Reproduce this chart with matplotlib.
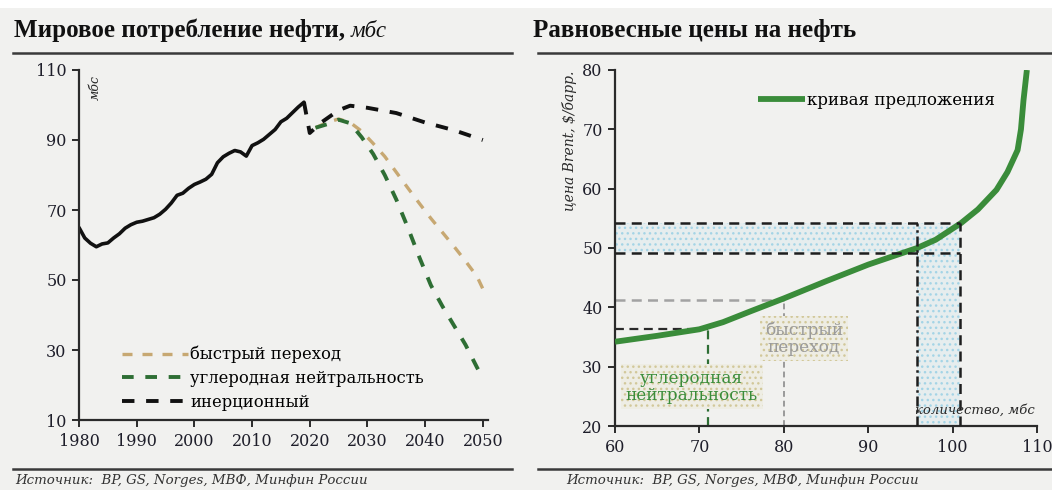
import matplotlib
matplotlib.use("Agg")
import matplotlib.pyplot as plt
from matplotlib.patches import Rectangle

# ---- left panel: world oil consumption, mb/d ----
hist_years = list(range(1980, 2020))
hist_cons = [65.0, 62.0, 60.5, 59.5, 60.3, 60.6, 62.0, 63.2, 64.8, 65.8,
             66.5, 66.8, 67.3, 67.8, 68.8, 70.2, 72.0, 74.2, 74.8, 76.2,
             77.3, 78.0, 78.8, 80.2, 83.5, 85.2, 86.2, 87.0, 86.6, 85.4,
             88.4, 89.2, 90.2, 91.6, 93.0, 95.2, 96.2, 97.8, 99.4, 100.8]

inert_years = [2019, 2020, 2022, 2025, 2027, 2030, 2035, 2040, 2045, 2050]
inert_cons = [100.8, 92.0, 95.0, 98.5, 99.8, 99.2, 97.7, 95.0, 92.8, 90.0]

scen_years = [2021, 2023, 2025, 2027, 2029, 2031, 2033, 2035, 2037, 2039,
              2041, 2043, 2045, 2047, 2049, 2050]
fast_cons = [93.5, 95.0, 96.0, 95.0, 92.5, 89.0, 85.3, 80.8, 76.3, 71.9,
             67.6, 63.6, 59.6, 55.4, 51.0, 47.5]
neutral_cons = [93.5, 94.5, 95.8, 94.8, 90.8, 86.0, 80.0, 73.0, 65.0, 56.5,
                48.5, 42.5, 37.0, 31.5, 25.0, 22.0]

left_xticks = [1980, 1990, 2000, 2010, 2020, 2030, 2040, 2050]
left_yticks = [10, 30, 50, 70, 90, 110]

# ---- right panel: equilibrium oil prices ----
supply_q = [60, 65, 70, 72.8, 76, 80, 85, 90, 95.8, 98, 101, 103, 105.2,
            106.5, 107.7, 108.1, 108.4, 108.8]
supply_p = [34.2, 35.2, 36.3, 37.5, 39.3, 41.5, 44.4, 47.2, 50.0, 51.4,
            54.2, 56.5, 59.8, 62.8, 66.5, 70.0, 74.9, 80.0]

neutral_q, neutral_p = 71.0, 36.4
fast_q, fast_p = 80.0, 41.2
band_q = [95.8, 100.9]
band_p = [49.1, 54.2]

right_xticks = [60, 70, 80, 90, 100, 110]
right_yticks = [20, 30, 40, 50, 60, 70, 80]

SERIF = "DejaVu Serif"
TITLE_FONT = "Liberation Serif"
BG = "#f1f1ef"
INK = "#2a2a2a"
GREEN = "#3a8c3a"
DKGREEN = "#2e6e34"
TAN = "#c7a872"
SOURCE = "Источник:  BP, GS, Norges, МВФ, Минфин России"

fig = plt.figure(figsize=(10.52, 4.9), dpi=100, facecolor=BG)
fig.patches.append(Rectangle((0, 1 - 8 / 490), 1, 8 / 490, transform=fig.transFigure,
                             facecolor="white", edgecolor="none", zorder=0))


def style_axes(ax):
    ax.set_facecolor(BG)
    for s in ("top", "right"):
        ax.spines[s].set_visible(False)
    for s in ("left", "bottom"):
        ax.spines[s].set_color(INK)
        ax.spines[s].set_linewidth(1.6)
    ax.tick_params(direction="out", length=5, width=1.4, color=INK,
                   labelsize=11.5, labelcolor="#1e1e2a", pad=4)
    for lab in ax.get_xticklabels() + ax.get_yticklabels():
        lab.set_family(SERIF)


def frame_lines(x0, x1):
    for y in (1 - 53 / 490, 1 - 469 / 490):
        fig.add_artist(plt.Line2D([x0, x1], [y, y], transform=fig.transFigure,
                                  color="#3a3a3a", lw=1.8))


def title_with_unit(x, bold, unit=None):
    y = 1 - 37 / 490
    t = fig.text(x, y, bold, family=TITLE_FONT, weight="bold", fontsize=18,
                 va="baseline", ha="left", color="#111")
    if unit:
        fig.canvas.draw()
        bb = t.get_window_extent(fig.canvas.get_renderer())
        fig.text(bb.x1 / fig.bbox.width + 0.005, y, unit, family=TITLE_FONT,
                 style="italic", fontsize=16.5, va="baseline", ha="left",
                 color="#111")


# ================= left chart =================
axl = fig.add_axes([79 / 1052, 70 / 490, 409 / 1052, 350 / 490])
axl.plot(hist_years, hist_cons, color="#111", lw=2.6, solid_capstyle="round")
axl.plot(scen_years, fast_cons, color=TAN, lw=2.4, dashes=(3, 3),
         label="быстрый переход")
axl.plot(scen_years, neutral_cons, color=DKGREEN, lw=2.8, dashes=(3, 3),
         label="углеродная нейтральность")
axl.plot(inert_years, inert_cons, color="#111", lw=2.8, dashes=(3.2, 3),
         label="инерционный")
axl.set_xlim(1980, 2050.9)
axl.set_ylim(10, 110)
axl.set_xticks(left_xticks)
axl.set_yticks(left_yticks)
style_axes(axl)
axl.text(0.04, 0.95, "мбс", transform=axl.transAxes, rotation=90, ha="center",
         va="center", family=SERIF, style="italic", fontsize=9, color=INK)
axl.legend(loc="lower left", bbox_to_anchor=(0.07, -0.015), frameon=False,
           handlelength=4.0, handletextpad=0.15, labelspacing=0.4,
           prop={"family": SERIF, "size": 11.8})

frame_lines(13 / 1052, 512 / 1052)
title_with_unit(14 / 1052, "Мировое потребление нефти,", "мбс")
fig.text(15 / 1052, 1 - 480 / 490, SOURCE, family=SERIF, style="italic",
         fontsize=9.6, va="center", color="#333")

# ================= right chart =================
axr = fig.add_axes([615 / 1052, 64 / 490, 422 / 1052, 356 / 490])
axr.set_xlim(60, 110)
axr.set_ylim(20, 80)

# shaded equilibrium bands
axr.fill_between([60, band_q[1]], band_p[0], band_p[1], facecolor="#e6edee",
                 edgecolor="#a4d4e6", hatch="...", lw=0, zorder=1)
axr.fill_between(band_q, 20, band_p[0], facecolor="#e6edee",
                 edgecolor="#a4d4e6", hatch="...", lw=0, zorder=1)

axr.plot(supply_q, supply_p, color=GREEN, lw=4.2, zorder=3,
         solid_capstyle="butt", label="кривая предложения")

dash_kw = dict(lw=1.8, dashes=(4, 2.5), zorder=4)
for p in band_p:
    axr.plot([60, band_q[1]], [p, p], color="#1e1e1e", **dash_kw)
axr.plot([band_q[0]] * 2, [20, band_p[1]], color="#1e1e1e", lw=1.8,
         dashes=(4, 1.5, 1, 1.5), zorder=4)
axr.plot([band_q[1]] * 2, [20, band_p[1]], color="#1e1e1e", **dash_kw)

axr.plot([60, fast_q], [fast_p, fast_p], color="#a2a2a2", lw=1.8,
         dashes=(4, 2.5), zorder=2)
axr.plot([fast_q, fast_q], [20, fast_p], color="#9a9a9a", lw=1.4,
         dashes=(3, 2), zorder=2)
axr.plot([60, neutral_q], [neutral_p, neutral_p], color="#2a2a2a", lw=1.6,
         dashes=(4, 2.5), zorder=2)
axr.plot([neutral_q, neutral_q], [20, neutral_p], color=DKGREEN, lw=1.6,
         dashes=(4, 2.5), zorder=2)

box = dict(boxstyle="square,pad=0.3", facecolor="#eeede4", edgecolor="#d2c89a",
           hatch="...", lw=0)
axr.text(69.1, 26.6, "углеродная\nнейтральность", ha="center", va="center",
         family=SERIF, fontsize=12.2, color=GREEN, linespacing=1.05, bbox=box,
         zorder=5)
axr.text(82.4, 34.7, "быстрый\nпереход", ha="center", va="center",
         family=SERIF, fontsize=12.2, color="#9a9a9a", linespacing=1.05,
         bbox=box, zorder=5)
axr.text(95.6, 22.6, "количество, мбс", ha="left", va="center", family=SERIF,
         style="italic", fontsize=9.5, color=INK, zorder=6)
axr.text(-0.107, 0.80, "цена Brent, $/барр.", transform=axr.transAxes,
         rotation=90, ha="center", va="center", family=SERIF, style="italic",
         fontsize=10, color=INK)

axr.set_xticks(right_xticks)
axr.set_yticks(right_yticks)
style_axes(axr)
axr.legend(loc="upper right", bbox_to_anchor=(0.935, 0.98), frameon=False,
           handlelength=2.8, handletextpad=0.1,
           prop={"family": SERIF, "size": 12})

frame_lines(538 / 1052, 1.0)
title_with_unit(533 / 1052, "Равновесные цены на нефть")
fig.text(566 / 1052, 1 - 480 / 490, SOURCE, family=SERIF, style="italic",
         fontsize=9.6, va="center", color="#333")

fig.savefig("out.png", dpi=100, facecolor=BG)
